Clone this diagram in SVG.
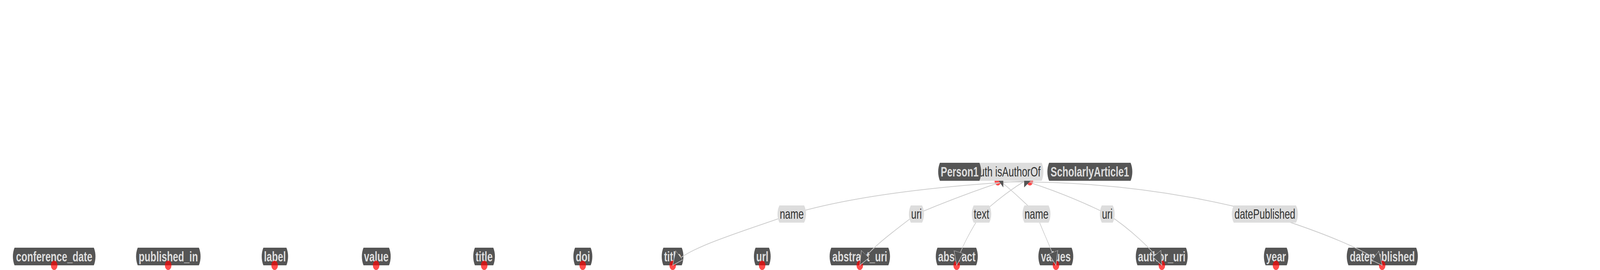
<svg xmlns="http://www.w3.org/2000/svg" width="5832" height="690" viewBox="0 0 5832 690" preserveAspectRatio="none">
<defs>
<style>
:root{width:100vw;height:100vh;}
.node path{fill:#555555;}
.node text{font-family:"Liberation Sans",Arial,sans-serif;font-weight:bold;font-size:35px;fill:#dddddd;text-anchor:middle;dominant-baseline:central;}
.elabel path{fill:#dddddd;}
.elabel text{font-family:"Liberation Sans",Arial,sans-serif;font-size:35px;fill:#333333;text-anchor:middle;dominant-baseline:central;}
.port{fill:#ff0000;fill-opacity:0.7;}
.edge{fill:none;stroke:#cccccc;stroke-width:2;marker-end:url(#arr);}
.head{fill:#555555;}
</style>
<marker id="arr" viewBox="0 0 36 36" refX="35" refY="18" markerWidth="36" markerHeight="36" markerUnits="userSpaceOnUse" orient="auto">
<path d="M0,1 L35,18 L0,35 Z" fill="#555555" stroke="#cccccc" stroke-width="1.5"/>
</marker>
</defs>
<rect width="5832" height="690" fill="#ffffff"/>

<g id="n-conference_date" class="node"><path d="M53,633 H342 A45,45 0 0 1 342,678 H53 A45,45 0 0 1 53,633 Z"/><text x="197.5" y="655.5">conference_date</text></g>
<g id="n-published_in" class="node"><path d="M502,633 H725 A45,45 0 0 1 725,678 H502 A45,45 0 0 1 502,633 Z"/><text x="613.5" y="655.5">published_in</text></g>
<g id="n-label" class="node"><path d="M960,633 H1044 A45,45 0 0 1 1044,678 H960 A45,45 0 0 1 960,633 Z"/><text x="1002" y="655.5">label</text></g>
<g id="n-value" class="node"><path d="M1325,633 H1418 A45,45 0 0 1 1418,678 H1325 A45,45 0 0 1 1325,633 Z"/><text x="1371.5" y="655.5">value</text></g>
<g id="n-title1" class="node"><path d="M1731,633 H1798 A45,45 0 0 1 1798,678 H1731 A45,45 0 0 1 1731,633 Z"/><text x="1764.5" y="655.5">title</text></g>
<g id="n-doi" class="node"><path d="M2096,633 H2153 A45,45 0 0 1 2153,678 H2096 A45,45 0 0 1 2096,633 Z"/><text x="2124.5" y="655.5">doi</text></g>
<g id="n-title2" class="node"><path d="M2418,633 H2485 A45,45 0 0 1 2485,678 H2418 A45,45 0 0 1 2418,633 Z"/><text x="2451.5" y="655.5">title</text></g>
<g id="n-url" class="node"><path d="M2754,633 H2803 A45,45 0 0 1 2803,678 H2754 A45,45 0 0 1 2754,633 Z"/><text x="2778.5" y="655.5">url</text></g>
<g id="n-abstract_uri" class="node"><path d="M3030,633 H3238 A45,45 0 0 1 3238,678 H3030 A45,45 0 0 1 3030,633 Z"/><text x="3134" y="655.5">abstract_uri</text></g>
<g id="n-abstract" class="node"><path d="M3417,633 H3558 A45,45 0 0 1 3558,678 H3417 A45,45 0 0 1 3417,633 Z"/><text x="3487.5" y="655.5">abstract</text></g>
<g id="n-values" class="node"><path d="M3791,633 H3906 A45,45 0 0 1 3906,678 H3791 A45,45 0 0 1 3791,633 Z"/><text x="3848.5" y="655.5">values</text></g>
<g id="n-author_uri" class="node"><path d="M4146,633 H4323 A45,45 0 0 1 4323,678 H4146 A45,45 0 0 1 4146,633 Z"/><text x="4234.5" y="655.5">author_uri</text></g>
<g id="n-year" class="node"><path d="M4613,633 H4690 A45,45 0 0 1 4690,678 H4613 A45,45 0 0 1 4613,633 Z"/><text x="4651.5" y="655.5">year</text></g>
<g id="n-datepublished" class="node"><path d="M4915,633 H5162 A45,45 0 0 1 5162,678 H4915 A45,45 0 0 1 4915,633 Z"/><text x="5038.5" y="655.5">datepublished</text></g>

<g id="ports">
<circle class="port" cx="197.5" cy="678" r="12"/>
<circle class="port" cx="613" cy="678" r="12"/>
<circle class="port" cx="1001" cy="678" r="12"/>
<circle class="port" cx="1371" cy="678" r="12"/>
<circle class="port" cx="1765" cy="678" r="12"/>
<circle class="port" cx="2124" cy="678" r="12"/>
<circle class="port" cx="2452" cy="678" r="12"/>
<circle class="port" cx="2778" cy="678" r="12"/>
<circle class="port" cx="3134" cy="678" r="12"/>
<circle class="port" cx="3487" cy="678" r="12"/>
<circle class="port" cx="3849" cy="678" r="12"/>
<circle class="port" cx="4235" cy="678" r="12"/>
<circle class="port" cx="4651" cy="678" r="12"/>
<circle class="port" cx="5038" cy="678" r="12"/>
<circle class="port" cx="3637" cy="462" r="12"/>
<circle class="port" cx="3754" cy="462" r="12"/>
</g>

<g id="connectors">
<path class="edge" d="M3752,462 Q3182,485 2886,547 C2706,592 2492,635 2452,678"/>
<path class="edge" d="M3650,465 Q3500,500 3340,547 C3260,590 3160,640 3134,678"/>
<path class="edge" d="M3730,465 Q3660,495 3577,547 C3550,575 3495,640 3487,678"/>
<path class="edge" d="M3650,465 Q3710,500 3778,547 C3795,585 3838,640 3849,678"/>
<path class="edge" d="M3760,468 Q3900,500 4036,547 C4110,580 4215,645 4235,678"/>
<path class="edge" d="M3645,465 Q4150,460 4610,547 C4810,591 5005,645 5038,678"/>
<polygon class="head" points="3628,450 3657,450 3657,479"/>
<polygon class="head" points="3733,450 3774,450 3733,479"/>
</g>

<g id="l-name1" class="elabel"><path d="M2841,525 H2931 A38,38 0 0 1 2931,569 H2841 A38,38 0 0 1 2841,525 Z"/><text x="2886" y="547">name</text></g>
<g id="l-uri1" class="elabel"><path d="M3320,525 H3361 A38,38 0 0 1 3361,569 H3320 A38,38 0 0 1 3320,525 Z"/><text x="3340.5" y="547">uri</text></g>
<g id="l-text" class="elabel"><path d="M3549,525 H3606 A38,38 0 0 1 3606,569 H3549 A38,38 0 0 1 3549,525 Z"/><text x="3577.5" y="547">text</text></g>
<g id="l-name2" class="elabel"><path d="M3734,525 H3822 A38,38 0 0 1 3822,569 H3734 A38,38 0 0 1 3734,525 Z"/><text x="3778" y="547">name</text></g>
<g id="l-uri2" class="elabel"><path d="M4016,525 H4056 A38,38 0 0 1 4056,569 H4016 A38,38 0 0 1 4016,525 Z"/><text x="4036" y="547">uri</text></g>
<g id="l-datePublished" class="elabel"><path d="M4497,525 H4724 A38,38 0 0 1 4724,569 H4497 A38,38 0 0 1 4497,525 Z"/><text x="4610.5" y="547">datePublished</text></g>

<g id="l-isAuthorOf" class="elabel"><path d="M3546,416 H3797 A45,45 0 0 1 3797,462 H3546 A45,45 0 0 1 3546,416 Z"/><text x="3793" y="439" style="text-anchor:end">uth isAuthorOf</text></g>

<g id="n-Person1" class="node"><path d="M3426,416 H3570 A45,45 0 0 1 3570,462 H3426 A45,45 0 0 1 3426,416 Z"/><text x="3498" y="439">Person1</text></g>
<g id="n-ScholarlyArticle1" class="node"><path d="M3824,416 H4121 A45,45 0 0 1 4121,462 H3824 A45,45 0 0 1 3824,416 Z"/><text x="3972.5" y="439">ScholarlyArticle1</text></g>
</svg>
